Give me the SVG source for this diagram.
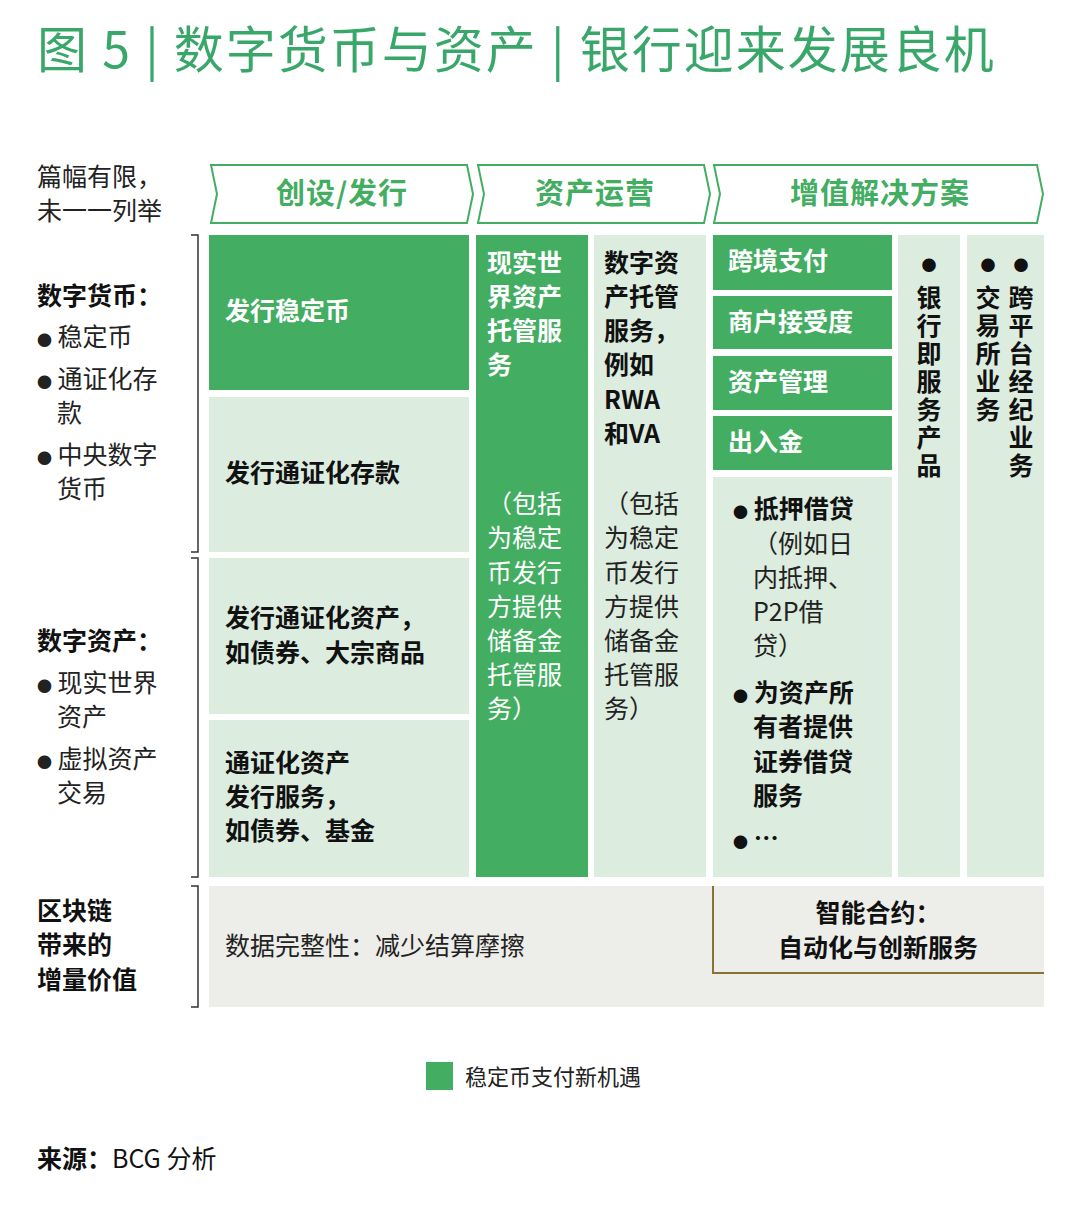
<svg xmlns="http://www.w3.org/2000/svg" width="1080" height="1206" viewBox="0 0 1080 1206">
<style>
text{font-family:"Noto Sans CJK SC","Noto Sans",sans-serif}
.d{fill:#43ad62}.l{fill:#dcecdf}
.w{fill:#fff;font-weight:700;font-size:25px}
.k{fill:#111;font-weight:700;font-size:25px}
.n{fill:#222;font-size:25px}
.h{fill:#43ad62;font-weight:700;font-size:29px;letter-spacing:1px}
.chev{fill:#fff;stroke:#43ad62;stroke-width:2}
.br{stroke:#333;stroke-width:1.5;fill:none}
.b{font-size:15px}
.v{writing-mode:tb;letter-spacing:3px}
</style>
<rect width="1080" height="1206" fill="#fff"/>
<text x="37" y="68" font-size="50" letter-spacing="2" fill="#3aa76a">图 5 | 数字货币与资产 | 银行迎来发展良机</text>
<g id="left">
<text class="n" x="37" y="186">篇幅有限，</text>
<text class="n" x="37" y="220">未一一列举</text>
<text class="k" x="37" y="305">数字货币：</text>
<text class="n" x="37" y="346"><tspan class="b">●</tspan> 稳定币</text>
<text class="n" x="37" y="388"><tspan class="b">●</tspan> 通证化存</text>
<text class="n" x="57" y="422">款</text>
<text class="n" x="37" y="464"><tspan class="b">●</tspan> 中央数字</text>
<text class="n" x="57" y="498">货币</text>
<text class="k" x="37" y="650">数字资产：</text>
<text class="n" x="37" y="692"><tspan class="b">●</tspan> 现实世界</text>
<text class="n" x="57" y="726">资产</text>
<text class="n" x="37" y="768"><tspan class="b">●</tspan> 虚拟资产</text>
<text class="n" x="57" y="802">交易</text>
<text class="k" x="37" y="920">区块链</text>
<text class="k" x="37" y="954">带来的</text>
<text class="k" x="37" y="989">增量价值</text>
<path class="br" d="M191 235H198V552H191M191 558H198V877H191M191 886H198V1007H191"/>
</g>
<g id="headers">
<path class="chev" d="M211 165H467L473 194L467 223H211L217 194Z"/>
<path class="chev" d="M478 165H704L710 194L704 223H478L484 194Z"/>
<path class="chev" d="M714 165H1037L1043 194L1037 223H714L720 194Z"/>
<text class="h" x="342" y="204" text-anchor="middle">创设/发行</text>
<text class="h" x="595" y="204" text-anchor="middle">资产运营</text>
<text class="h" x="880" y="204" text-anchor="middle">增值解决方案</text>
</g>
<g id="col1">
<rect class="d" x="209" y="235" width="260" height="155"/>
<text class="w" x="225" y="320">发行稳定币</text>
<rect class="l" x="209" y="397" width="260" height="155"/>
<text class="k" x="225" y="482">发行通证化存款</text>
<rect class="l" x="209" y="558" width="260" height="156"/>
<text class="k" x="225" y="627">发行通证化资产，</text>
<text class="k" x="225" y="662">如债券、大宗商品</text>
<rect class="l" x="209" y="720" width="260" height="157"/>
<text class="k" x="225" y="772">通证化资产</text>
<text class="k" x="225" y="806">发行服务，</text>
<text class="k" x="225" y="840">如债券、基金</text>
</g>
<g id="col2">
<rect class="d" x="476" y="235" width="112" height="642"/>
<g class="w"><text x="487" y="272">现实世</text><text x="487" y="306">界资产</text><text x="487" y="340">托管服</text><text x="487" y="374">务</text></g>
<g fill="#fff" font-size="25"><text x="487" y="513">（包括</text><text x="487" y="547">为稳定</text><text x="487" y="582">币发行</text><text x="487" y="616">方提供</text><text x="487" y="650">储备金</text><text x="487" y="684">托管服</text><text x="487" y="718">务）</text></g>
<rect class="l" x="594" y="235" width="112" height="642"/>
<g class="k"><text x="604" y="272">数字资</text><text x="604" y="306">产托管</text><text x="604" y="340">服务，</text><text x="604" y="374">例如</text><text x="604" y="409">RWA</text><text x="604" y="443">和VA</text></g>
<g class="n"><text x="604" y="513">（包括</text><text x="604" y="547">为稳定</text><text x="604" y="582">币发行</text><text x="604" y="616">方提供</text><text x="604" y="650">储备金</text><text x="604" y="684">托管服</text><text x="604" y="718">务）</text></g>
</g>
<g id="col3">
<rect class="d" x="713" y="235" width="179" height="55"/><text class="w" x="728" y="270">跨境支付</text>
<rect class="d" x="713" y="296" width="179" height="53"/><text class="w" x="728" y="331">商户接受度</text>
<rect class="d" x="713" y="356" width="179" height="54"/><text class="w" x="728" y="391">资产管理</text>
<rect class="d" x="713" y="416" width="179" height="54"/><text class="w" x="728" y="451">出入金</text>
<rect class="l" x="713" y="477" width="179" height="400"/>
<text class="k" x="733" y="518"><tspan class="b">●</tspan> 抵押借贷</text>
<g class="n"><text x="753" y="553">（例如日</text><text x="753" y="587">内抵押、</text><text x="753" y="621">P2P借</text><text x="753" y="655">贷）</text></g>
<text class="k" x="733" y="702"><tspan class="b">●</tspan> 为资产所</text>
<g class="k"><text x="753" y="736">有者提供</text><text x="753" y="771">证券借贷</text><text x="753" y="805">服务</text></g>
<text class="k" x="733" y="848"><tspan class="b">●</tspan> …</text>
<rect class="l" x="898" y="235" width="62" height="642"/>
<text class="k v" x="929" y="258"><tspan class="b">●</tspan> 银行即服务产品</text>
<rect class="l" x="967" y="235" width="77" height="642"/>
<text class="k v" x="988" y="258"><tspan class="b">●</tspan> 交易所业务</text>
<text class="k v" x="1021" y="258"><tspan class="b">●</tspan> 跨平台经纪业务</text>
</g>
<g id="bottom">
<rect x="209" y="886" width="835" height="121" fill="#ededea"/>
<text class="n" x="225" y="955">数据完整性：减少结算摩擦</text>
<path d="M713 886V973H1044" fill="none" stroke="#8a7235" stroke-width="2"/>
<text class="k" x="878" y="922" text-anchor="middle">智能合约：</text>
<text class="k" x="878" y="957" text-anchor="middle">自动化与创新服务</text>
</g>
<g id="legend">
<rect class="d" x="426" y="1062" width="27" height="28"/>
<text x="465" y="1085" font-size="22" fill="#222">稳定币支付新机遇</text>
</g>
<text x="37" y="1168" font-size="25" fill="#111"><tspan font-weight="700">来源：</tspan>BCG 分析</text>
</svg>
